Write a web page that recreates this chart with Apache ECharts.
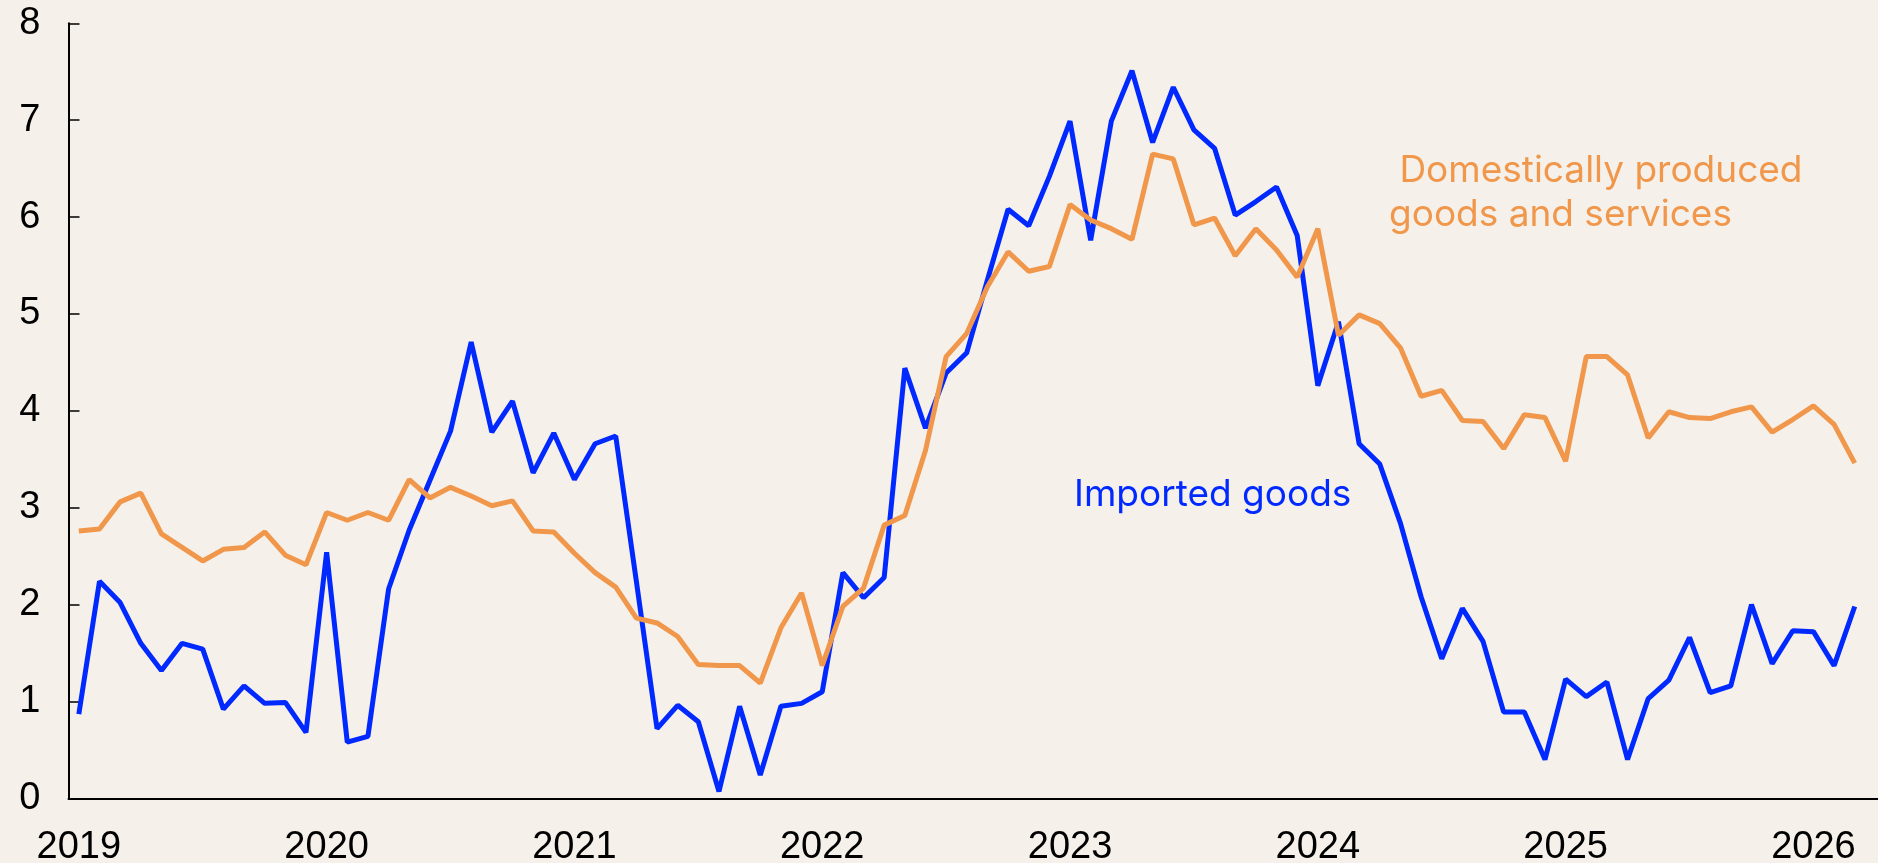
<!DOCTYPE html>
<html lang="en">
  <head>
    <meta charset="UTF-8" />
    <title>Imported vs domestic inflation</title>
    <script src="https://cdn.jsdelivr.net/npm/echarts@6/dist/echarts.min.js"></script>
    <style>
      html, body {
        margin: 0;
        padding: 0;
        background: #f5f1ea;
      }
      #chart {
        width: 1878px;
        height: 863px;
      }
    </style>
  </head>
  <body>
    <div id="chart"></div>
    <script>
      // monthly, Jan 2019 .. Apr 2026 (last month has no data yet)
      let startYear = 2019
      let monthCount = 88
      let months = []
      for (let i = 0; i < monthCount; i++) {
        let y = startYear + Math.floor(i / 12)
        let m = (i % 12) + 1
        months.push(y + '-' + (m < 10 ? '0' + m : m))
      }

      let imported = [
        0.87, 2.24, 2.02, 1.60, 1.32, 1.60, 1.54, 0.92, 1.16, 0.98, 0.99, 0.68,
        2.54, 0.58, 0.64, 2.16, 2.77, 3.28, 3.79, 4.71, 3.78, 4.10, 3.36, 3.77,
        3.29, 3.66, 3.74, 2.24, 0.72, 0.96, 0.79, 0.07, 0.95, 0.24, 0.95, 0.98,
        1.10, 2.33, 2.07, 2.28, 4.44, 3.82, 4.39, 4.60, 5.35, 6.08, 5.91, 6.42,
        6.99, 5.76, 6.99, 7.51, 6.77, 7.34, 6.90, 6.71, 6.02, 6.16, 6.31, 5.81,
        4.26, 4.92, 3.66, 3.45, 2.84, 2.08, 1.44, 1.96, 1.62, 0.89, 0.89, 0.40,
        1.23, 1.05, 1.20, 0.40, 1.03, 1.22, 1.66, 1.09, 1.16, 2.00, 1.39, 1.73,
        1.72, 1.37, 1.98
      ]

      let domestic = [
        2.76, 2.78, 3.06, 3.15, 2.73, 2.59, 2.45, 2.57, 2.59, 2.75, 2.51, 2.41,
        2.95, 2.87, 2.95, 2.87, 3.29, 3.10, 3.21, 3.12, 3.02, 3.07, 2.76, 2.75,
        2.53, 2.33, 2.18, 1.86, 1.81, 1.67, 1.38, 1.37, 1.37, 1.19, 1.76, 2.12,
        1.37, 1.98, 2.17, 2.82, 2.92, 3.59, 4.56, 4.80, 5.28, 5.64, 5.44, 5.49,
        6.13, 5.97, 5.88, 5.77, 6.65, 6.60, 5.92, 5.99, 5.60, 5.88, 5.66, 5.38,
        5.88, 4.78, 4.99, 4.90, 4.65, 4.15, 4.21, 3.90, 3.89, 3.61, 3.96, 3.93,
        3.48, 4.56, 4.56, 4.37, 3.72, 3.99, 3.93, 3.92, 3.99, 4.04, 3.78, 3.91,
        4.05, 3.86, 3.46
      ]

      let yTicks = [0, 1, 2, 3, 4, 5, 6, 7, 8]

      let blue = '#0029ff'
      let orange = '#f0974b'
      let axisFont = '"Liberation Sans", Arial, sans-serif'
      let noteFont = 'Inter, "Noto Sans", sans-serif'

      let chart = echarts.init(document.getElementById('chart'))
      chart.setOption({
        backgroundColor: '#f5f1ea',
        animation: false,
        grid: {
          left: 68.5,
          right: -7.7,
          top: 23.3,
          bottom: 64.7,
          containLabel: false,
          outerBoundsMode: 'none'
        },
        xAxis: {
          type: 'category',
          data: months,
          boundaryGap: true,
          axisLine: { lineStyle: { color: '#000', width: 2 } },
          axisTick: {
            inside: true,
            length: 11,
            alignWithLabel: false,
            interval: (i) => i % 12 === 0,
            lineStyle: { color: '#000', width: 1.5 }
          },
          axisLabel: {
            interval: (i) => i % 12 === 0,
            formatter: (v) => v.slice(0, 4),
            color: '#000',
            fontFamily: axisFont,
            fontSize: 38,
            margin: 30
          },
          splitLine: { show: false }
        },
        yAxis: {
          type: 'value',
          min: yTicks[0],
          max: yTicks[yTicks.length - 1],
          interval: 1,
          axisLine: { show: true, lineStyle: { color: '#000', width: 2 } },
          axisTick: {
            show: true,
            inside: true,
            length: 11,
            lineStyle: { color: '#000', width: 1.5 }
          },
          axisLabel: {
            color: '#000',
            fontFamily: axisFont,
            fontSize: 38,
            margin: 28
          },
          splitLine: { show: false }
        },
        series: [
          {
            name: 'Imported goods',
            type: 'line',
            data: imported,
            symbol: 'none',
            lineStyle: { color: blue, width: 5 }
          },
          {
            name: 'Domestically produced goods and services',
            type: 'line',
            data: domestic,
            symbol: 'none',
            lineStyle: { color: orange, width: 5 }
          }
        ],
        graphic: [
          {
            type: 'text',
            x: 1074,
            y: 495,
            style: {
              text: 'Imported goods',
              fill: blue,
              font: '37px ' + noteFont,
              verticalAlign: 'middle'
            }
          },
          {
            type: 'text',
            x: 1389,
            y: 149,
            style: {
              text: ' Domestically produced\ngoods and services',
              fill: orange,
              font: '37px ' + noteFont,
              lineHeight: 44,
              verticalAlign: 'top'
            }
          }
        ]
      })
    </script>
  </body>
</html>
